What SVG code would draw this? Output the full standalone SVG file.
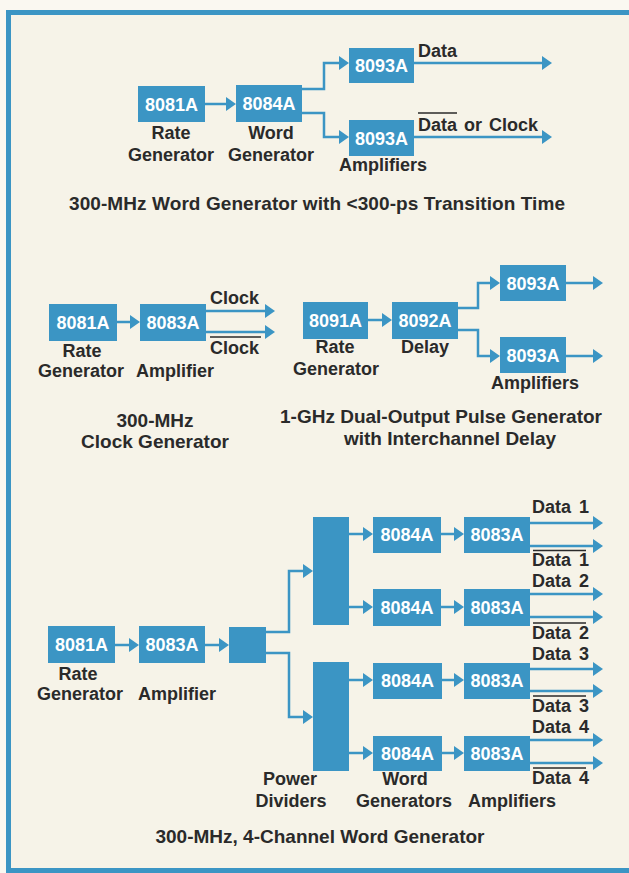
<svg xmlns="http://www.w3.org/2000/svg" width="629" height="873" viewBox="0 0 629 873">
<defs>
<marker id="ah" viewBox="0 0 10 14" refX="2" refY="7" markerWidth="10" markerHeight="14" markerUnits="userSpaceOnUse" orient="auto">
<path d="M0,0 L10,7 L0,14 Z" fill="#3b95c4"/>
</marker>
<style>
.box{fill:#3b95c4}
.bt{fill:#ffffff;font-family:"Liberation Sans",Arial,sans-serif;font-weight:bold;font-size:18px;text-anchor:middle}
.lb{fill:#2a2a2a;font-family:"Liberation Sans",Arial,sans-serif;font-weight:bold;font-size:18px;text-anchor:middle}
.ls{fill:#2a2a2a;font-family:"Liberation Sans",Arial,sans-serif;font-weight:bold;font-size:18px}
.cap{fill:#2a2a2a;font-family:"Liberation Sans",Arial,sans-serif;font-weight:bold;font-size:19px;text-anchor:middle}
.cn{fill:none;stroke:#3b95c4;stroke-width:2.5;marker-end:url(#ah)}
.ol{stroke:#2a2a2a;stroke-width:1.6}
</style>
</defs>
<rect x="0" y="0" width="629" height="873" fill="#faf8f1"/>
<rect x="8.5" y="12.5" width="640" height="858" fill="#f6f3e8" stroke="#3b95c4" stroke-width="5"/>

<g id="connectors">
<path class="cn" d="M205,104 H228"/>
<path class="cn" d="M302,89 H324 V63 H341"/>
<path class="cn" d="M302,113 H324 V137 H341"/>
<path class="cn" d="M414,63 H544"/>
<path class="cn" d="M414,137 H544"/>

<path class="cn" d="M117,322 H132"/>
<path class="cn" d="M206,311 H267"/>
<path class="cn" d="M206,332 H267"/>

<path class="cn" d="M368,320 H384"/>
<path class="cn" d="M458,308 H478 V283 H492"/>
<path class="cn" d="M458,330 H478 V356 H492"/>
<path class="cn" d="M566,283 H595"/>
<path class="cn" d="M566,356 H595"/>

<path class="cn" d="M115,645 H131"/>
<path class="cn" d="M205,645 H221"/>
<path class="cn" d="M266,632 H289 V571 H305"/>
<path class="cn" d="M266,653 H289 V717 H305"/>
<path class="cn" d="M349,534 H365"/>
<path class="cn" d="M349,607 H365"/>
<path class="cn" d="M349,680 H365"/>
<path class="cn" d="M349,753 H365"/>
<path class="cn" d="M441,534 H456"/>
<path class="cn" d="M441,607 H456"/>
<path class="cn" d="M442,680 H456"/>
<path class="cn" d="M442,753 H456"/>
<path class="cn" d="M530,523 H595"/>
<path class="cn" d="M530,546 H595"/>
<path class="cn" d="M530,594 H595"/>
<path class="cn" d="M530,617 H595"/>
<path class="cn" d="M530,669 H595"/>
<path class="cn" d="M530,691 H595"/>
<path class="cn" d="M530,740 H595"/>
<path class="cn" d="M530,763 H595"/>
</g>

<!-- Section 1 -->
<g id="s1-8081A"><rect class="box" x="138" y="86" width="67" height="36"/><text class="bt" x="171.5" y="110.5">8081A</text>
<text class="lb" x="171" y="139">Rate</text><text class="lb" x="171" y="161">Generator</text></g>
<g id="s1-8084A"><rect class="box" x="236" y="85" width="66" height="37"/><text class="bt" x="269" y="110">8084A</text>
<text class="lb" x="271" y="139">Word</text><text class="lb" x="271" y="161">Generator</text></g>
<g id="s1-8093A-top"><rect class="box" x="349" y="48" width="65" height="35"/><text class="bt" x="381.5" y="72">8093A</text></g>
<g id="s1-8093A-bot"><rect class="box" x="349" y="120" width="65" height="36"/><text class="bt" x="381.5" y="144.5">8093A</text>
<text class="lb" x="383" y="171">Amplifiers</text></g>
<g id="s1-labels">
<text class="ls" x="418" y="57">Data</text>
<text class="ls" x="418" y="131" word-spacing="2">Data or Clock</text>
<line class="ol" x1="418" y1="113" x2="457" y2="113"/>
<text class="cap" x="317" y="210" textLength="496">300-MHz Word Generator with &lt;300-ps Transition Time</text>
</g>

<!-- Section 2 left -->
<g id="s2-8081A"><rect class="box" x="49" y="304" width="68" height="37"/><text class="bt" x="83" y="329">8081A</text>
<text class="lb" x="82" y="357">Rate</text><text class="lb" x="81" y="377">Generator</text></g>
<g id="s2-8083A"><rect class="box" x="140" y="304" width="66" height="37"/><text class="bt" x="173" y="329">8083A</text>
<text class="lb" x="175" y="377">Amplifier</text></g>
<g id="s2-labels">
<text class="ls" x="210" y="304">Clock</text>
<line class="ol" x1="210" y1="337" x2="261" y2="337"/>
<text class="ls" x="210" y="354">Clock</text>
<text class="cap" x="155" y="427">300-MHz</text>
<text class="cap" x="155" y="448">Clock Generator</text>
</g>

<!-- Section 2 right -->
<g id="s2-8091A"><rect class="box" x="303" y="302" width="65" height="37"/><text class="bt" x="335.5" y="327">8091A</text>
<text class="lb" x="335" y="353">Rate</text><text class="lb" x="336" y="375">Generator</text></g>
<g id="s2-8092A"><rect class="box" x="392" y="302" width="66" height="37"/><text class="bt" x="425" y="327">8092A</text>
<text class="lb" x="425" y="353">Delay</text></g>
<g id="s2-8093A-top"><rect class="box" x="500" y="265" width="66" height="36"/><text class="bt" x="533" y="289.5">8093A</text></g>
<g id="s2-8093A-bot"><rect class="box" x="500" y="337" width="66" height="36"/><text class="bt" x="533" y="361.5">8093A</text>
<text class="lb" x="535" y="389">Amplifiers</text></g>
<g id="s2r-labels">
<text class="cap" x="441" y="423">1-GHz Dual-Output Pulse Generator</text>
<text class="cap" x="450" y="445">with Interchannel Delay</text>
</g>

<!-- Section 3 -->
<g id="s3-8081A"><rect class="box" x="48" y="626" width="67" height="37"/><text class="bt" x="81.5" y="651">8081A</text>
<text class="lb" x="78" y="680">Rate</text><text class="lb" x="80" y="700">Generator</text></g>
<g id="s3-8083A"><rect class="box" x="139" y="626" width="66" height="37"/><text class="bt" x="172" y="651">8083A</text>
<text class="lb" x="177" y="700">Amplifier</text></g>
<g id="s3-split"><rect class="box" x="229" y="627" width="37" height="36"/></g>
<g id="s3-divider1"><rect class="box" x="313" y="517" width="36" height="108"/></g>
<g id="s3-divider2"><rect class="box" x="313" y="662" width="36" height="109"/>
<text class="lb" x="290" y="785">Power</text><text class="lb" x="291" y="807">Dividers</text></g>
<g id="s3-wg1"><rect class="box" x="373" y="517" width="68" height="36"/><text class="bt" x="407" y="541">8084A</text></g>
<g id="s3-wg2"><rect class="box" x="373" y="589" width="68" height="37"/><text class="bt" x="407" y="614">8084A</text></g>
<g id="s3-wg3"><rect class="box" x="373" y="663" width="69" height="36"/><text class="bt" x="407.5" y="687">8084A</text></g>
<g id="s3-wg4"><rect class="box" x="373" y="736" width="69" height="35"/><text class="bt" x="407.5" y="760">8084A</text>
<text class="lb" x="405" y="785">Word</text><text class="lb" x="404" y="807">Generators</text></g>
<g id="s3-amp1"><rect class="box" x="464" y="517" width="66" height="36"/><text class="bt" x="497" y="541">8083A</text></g>
<g id="s3-amp2"><rect class="box" x="464" y="589" width="66" height="37"/><text class="bt" x="497" y="614">8083A</text></g>
<g id="s3-amp3"><rect class="box" x="464" y="663" width="66" height="36"/><text class="bt" x="497" y="687">8083A</text></g>
<g id="s3-amp4"><rect class="box" x="464" y="736" width="66" height="35"/><text class="bt" x="497" y="760">8083A</text>
<text class="lb" x="512" y="807">Amplifiers</text></g>
<g id="s3-labels">
<text class="ls" x="532" y="513" word-spacing="3">Data 1</text>
<line class="ol" x1="533" y1="550.5" x2="586" y2="550.5"/>
<text class="ls" x="532" y="566" word-spacing="3">Data 1</text>
<text class="ls" x="532" y="587" word-spacing="3">Data 2</text>
<line class="ol" x1="533" y1="623" x2="586" y2="623"/>
<text class="ls" x="532" y="639" word-spacing="3">Data 2</text>
<text class="ls" x="532" y="660" word-spacing="3">Data 3</text>
<line class="ol" x1="533" y1="696" x2="586" y2="696"/>
<text class="ls" x="532" y="712" word-spacing="3">Data 3</text>
<text class="ls" x="532" y="733" word-spacing="3">Data 4</text>
<line class="ol" x1="533" y1="768" x2="586" y2="768"/>
<text class="ls" x="532" y="784" word-spacing="3">Data 4</text>
<text class="cap" x="320" y="843">300-MHz, 4-Channel Word Generator</text>
</g>
</svg>
